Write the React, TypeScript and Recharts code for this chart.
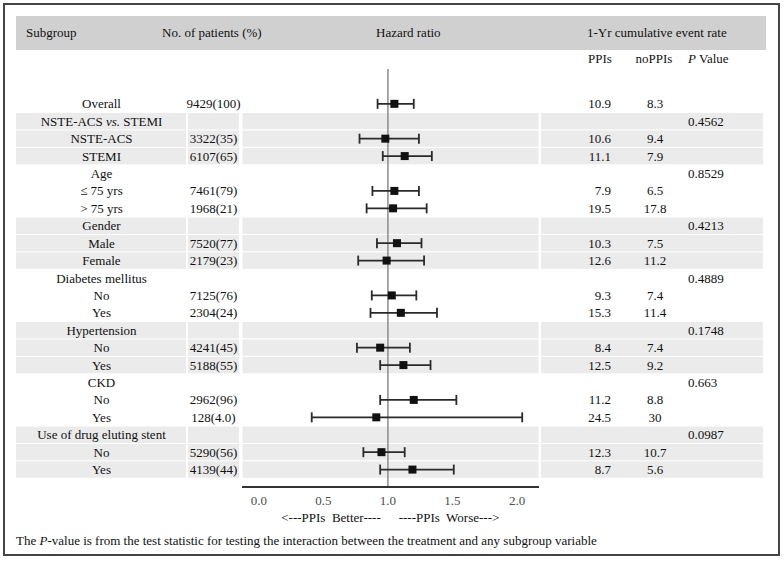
import React from "react";
import { ScatterChart, Scatter, XAxis, YAxis, ErrorBar, ReferenceLine, ReferenceArea } from "recharts";

const SUBGROUPS = [
  "Overall", "NSTE-ACS vs. STEMI", "NSTE-ACS", "STEMI",
  "Age", "\u2264 75 yrs", "> 75 yrs",
  "Gender", "Male", "Female",
  "Diabetes mellitus", "No", "Yes",
  "Hypertension", "No", "Yes",
  "CKD", "No", "Yes",
  "Use of drug eluting stent", "No", "Yes",
];
const PATIENTS = [
  "9429(100)", "", "3322(35)", "6107(65)",
  "", "7461(79)", "1968(21)",
  "", "7520(77)", "2179(23)",
  "", "7125(76)", "2304(24)",
  "", "4241(45)", "5188(55)",
  "", "2962(96)", "128(4.0)",
  "", "5290(56)", "4139(44)",
];
const HR = [1.05, null, 0.98, 1.13, null, 1.05, 1.04, null, 1.07, 0.99, null, 1.03, 1.10, null, 0.94, 1.12, null, 1.20, 0.91, null, 0.95, 1.19];
const HR_LO = [0.92, null, 0.78, 0.96, null, 0.88, 0.835, null, 0.915, 0.77, null, 0.875, 0.865, null, 0.76, 0.94, null, 0.94, 0.41, null, 0.81, 0.94];
const HR_HI = [1.20, null, 1.24, 1.34, null, 1.24, 1.30, null, 1.26, 1.28, null, 1.22, 1.38, null, 1.17, 1.33, null, 1.53, 2.04, null, 1.13, 1.51];
const RATE_PPI = ["10.9", "", "10.6", "11.1", "", "7.9", "19.5", "", "10.3", "12.6", "", "9.3", "15.3", "", "8.4", "12.5", "", "11.2", "24.5", "", "12.3", "8.7"];
const RATE_NOPPI = ["8.3", "", "9.4", "7.9", "", "6.5", "17.8", "", "7.5", "11.2", "", "7.4", "11.4", "", "7.4", "9.2", "", "8.8", "30", "", "10.7", "5.6"];
const P_VALUES = ["", "0.4562", "", "", "0.8529", "", "", "0.4213", "", "", "0.4889", "", "", "0.1748", "", "", "0.663", "", "", "0.0987", "", ""];
const SHADED = [0, 1, 1, 1, 0, 0, 0, 1, 1, 1, 0, 0, 0, 1, 1, 1, 0, 0, 0, 1, 1, 1];
const X_TICKS = [0, 0.5, 1, 1.5, 2];

const FONT = '"Liberation Serif", "Times New Roman", serif';
const INK = "#111";
const BAND = "#ebebeb";
const ROW_H = 17.4;

const points = HR.map((hr, i) => ({ row: i, hr, lo: HR_LO[i], hi: HR_HI[i] }))
  .filter((d) => d.hr != null)
  .map((d) => ({ row: d.row, hr: d.hr as number, err: [(d.hr as number) - (d.lo as number), (d.hi as number) - (d.hr as number)] }));

const rowIdx = SUBGROUPS.map((_, i) => i);

function Label({ text, x, y }: { text: string; x: number; y: number }) {
  const parts = text.split(" vs. ");
  return (
    <text x={x} y={y} dy="0.35em" textAnchor="middle" fontSize={13} fontFamily={FONT} fill={INK}>
      {parts.length === 2 ? (
        <>
          {parts[0] + " "}
          <tspan fontStyle="italic">vs.</tspan>
          {" " + parts[1]}
        </>
      ) : text}
    </text>
  );
}

function RowTick(props: any) {
  const { y, payload } = props;
  const i = payload.value as number;
  const top = y - ROW_H / 2 + 0.5;
  const h = ROW_H - 1;
  const txt = { fontSize: 13, fontFamily: FONT, fill: INK, dy: "0.35em" } as const;
  return (
    <g>
      {SHADED[i] ? (
        <>
          <rect x={16} y={top} width={170} height={h} fill={BAND} />
          <rect x={188} y={top} width={51} height={h} fill={BAND} />
          <rect x={541} y={top} width={222} height={h} fill={BAND} />
        </>
      ) : null}
      <Label text={SUBGROUPS[i]} x={101.5} y={y} />
      <text x={213.5} y={y} textAnchor="middle" {...txt}>{PATIENTS[i]}</text>
      <text x={611} y={y} textAnchor="end" {...txt}>{RATE_PPI[i]}</text>
      <text x={655} y={y} textAnchor="middle" {...txt}>{RATE_NOPPI[i]}</text>
      <text x={688} y={y} textAnchor="start" {...txt}>{P_VALUES[i]}</text>
    </g>
  );
}

function Square(props: any) {
  const { cx, cy } = props;
  return <rect x={cx - 4} y={cy - 4} width={8} height={8} fill="#111" />;
}

const txtStyle: React.CSSProperties = {
  position: "absolute",
  fontFamily: FONT,
  fontSize: 13,
  lineHeight: "16px",
  color: INK,
  whiteSpace: "pre",
};

export default function App() {
  return (
    <div style={{ position: "absolute", left: 0, top: 0, width: 784, height: 561, background: "#fff" }}>
      <div style={{ position: "absolute", left: 3, top: 3, width: 777, height: 553, border: "2px solid #444", boxSizing: "border-box" }} />
      <div style={{ position: "absolute", left: 16, top: 16, width: 750, height: 34, background: "#d0d0d0" }} />
      <div style={{ ...txtStyle, left: 26, top: 25 }}>Subgroup</div>
      <div style={{ ...txtStyle, left: 162, top: 25 }}>No. of patients (%)</div>
      <div style={{ ...txtStyle, left: 376, top: 25 }}>Hazard ratio</div>
      <div style={{ ...txtStyle, left: 587, top: 25 }}>1-Yr cumulative event rate</div>
      <div style={{ ...txtStyle, left: 570, width: 60, textAlign: "center", top: 51 }}>PPIs</div>
      <div style={{ ...txtStyle, left: 624, width: 60, textAlign: "center", top: 51 }}>noPPIs</div>
      <div style={{ ...txtStyle, left: 688, top: 51 }}><i>P</i> Value</div>

      <div style={{ position: "absolute", left: 0, top: 0 }}>
        <ScatterChart width={784} height={561} margin={{ top: 69, right: 245, bottom: 44, left: 0 }}>
          {rowIdx.filter((i) => SHADED[i]).map((i) => (
            <ReferenceArea key={i} y1={i - 0.5} y2={i + 0.5} fill={BAND} fillOpacity={1} stroke="#fff" strokeWidth={1} ifOverflow="visible" />
          ))}
          <XAxis
            type="number"
            dataKey="hr"
            domain={[-0.13, 2.17]}
            ticks={X_TICKS}
            tickFormatter={(v: number) => v.toFixed(1)}
            axisLine={{ stroke: "#333", strokeWidth: 2 }}
            tickLine={false}
            tickMargin={3}
            height={30}
            tick={{ fontSize: 13, fontFamily: FONT, fill: "#4d4d4d" }}
          />
          <YAxis
            type="number"
            dataKey="row"
            domain={[-2, 22]}
            reversed
            ticks={rowIdx}
            interval={0}
            width={242}
            axisLine={false}
            tickLine={false}
            tick={(p: any) => <RowTick {...p} />}
          />
          <ReferenceLine x={1} stroke="#8c8c8c" strokeWidth={1.5} />
          <Scatter data={points} shape={(p: any) => <Square {...p} />} isAnimationActive={false}>
            <ErrorBar dataKey="err" direction="x" width={5} stroke="#2a2a2a" strokeWidth={1.8} isAnimationActive={false} />
          </Scatter>
        </ScatterChart>
      </div>

      <div style={{ ...txtStyle, left: 271, width: 120, textAlign: "center", top: 510 }}>{"<---PPIs  Better----"}</div>
      <div style={{ ...txtStyle, left: 389, width: 120, textAlign: "center", top: 510 }}>{"----PPIs  Worse--->"}</div>
      <div style={{ ...txtStyle, left: 16, top: 533 }}>
        The <i>P</i>-value is from the test statistic for testing the interaction between the treatment and any subgroup variable
      </div>
    </div>
  );
}
